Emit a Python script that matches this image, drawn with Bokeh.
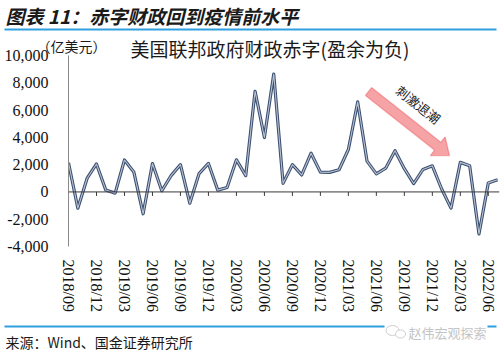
import math
import pandas as pd
from bokeh.plotting import figure
from bokeh.models import (FixedTicker, NumeralTickFormatter, Span, Label,
                          PolyAnnotation, BoxAnnotation, Range1d)
from bokeh.embed import file_html
from bokeh.resources import INLINE

# ---------------- data ----------------
months = [p.strftime("%Y/%m") for p in pd.period_range("2018-09", "2022-07", freq="M")]
deficit = [2141, -1191, 1005, 2049, 135, -87, 2340, 1469, -1603, 2078, 85, 1197,
           2003, -828, 1345, 2088, 133, 326, 2353, 1191, 7379, 3988, 8641, 630,
           2000, 1246, 2841, 1453, 1436, 1628, 3109, 6596, 2256, 1320, 1742, 3021,
           1706, 615, 1650, 1913, 213, -1187, 2166, 1927, -3082, 662, 888]
tick_labels = ["2018/09", "2018/12", "2019/03", "2019/06", "2019/09", "2019/12",
               "2020/03", "2020/06", "2020/09", "2020/12", "2021/03", "2021/06",
               "2021/09", "2021/12", "2022/03", "2022/06"]
y_ticks = [-4000, -2000, 0, 2000, 4000, 6000, 8000, 10000]

title_text = "图表 11：赤字财政回到疫情前水平"
unit_text = "（亿美元）"
series_name = "美国联邦政府财政赤字(盈余为负)"
arrow_text = "刺激退潮"
source_text = "来源：Wind、国金证券研究所"
watermark = "赵伟宏观探索"

serif = "Liberation Serif"
cjk = "Noto Sans CJK SC"
BLUE = "#2f9fe0"
W, H = 500, 354

# ---------------- background page (title, rules, notes) ----------------
bg = figure(width=W, height=H, output_backend="svg", toolbar_location=None,
            x_range=Range1d(0, W), y_range=Range1d(0, H),
            x_axis_type=None, y_axis_type=None, min_border=0, margin=0)
bg.outline_line_color = None
bg.grid.visible = False
bg.background_fill_alpha = 0
bg.border_fill_alpha = 0


def py(y):
    """page y (from top) -> background figure data y"""
    return H - y


# blue rules under the title and above the source line (the lower one is
# interrupted by the watermark)
for l, r, yy in ((4, 496, 29), (4, 384, 326), (487, 496, 326)):
    bg.add_layout(BoxAnnotation(left=l, right=r, bottom=py(yy + 1), top=py(yy - 1),
                                fill_color=BLUE, fill_alpha=1.0, line_color=None,
                                level="overlay"))

bg.add_layout(Label(x=5, y=py(14.5), text=title_text, text_font=cjk,
                    text_font_size="19px", text_font_style="bold italic",
                    text_baseline="middle", text_color="#1a1a1a"))
bg.ellipse(x=[392, 400], y=[py(330), py(333.5)], width=[13, 10], height=[10, 8],
           fill_color="white", line_color="#cfcfcf", line_width=1)
bg.add_layout(Label(x=36, y=py(45.5), text=unit_text, text_font=cjk,
                    text_font_size="14px", text_baseline="middle",
                    text_color="#1a1a1a"))
bg.add_layout(Label(x=130, y=py(48), text=series_name, text_font=cjk,
                    text_font_size="19px", text_baseline="middle",
                    text_color="#1a1a1a"))
bg.add_layout(Label(x=408, y=py(332), text=watermark, text_font=cjk,
                    text_font_size="13px", text_baseline="middle",
                    text_color="#c4c4c4"))
bg.add_layout(Label(x=5, y=py(341.5), text=source_text, text_font=cjk,
                    text_font_size="14px", text_baseline="middle",
                    text_color="#1a1a1a"))

# ---------------- main chart, overlaid on the page ----------------
TOP = 46          # page y where the chart canvas starts
MH = 272
BL, BR, BT, BB = 68, 1, 9, 72
FW, FH = W - BL - BR, MH - BT - BB
x_idx = list(range(len(months)))
X_END = 46.2
Y0, Y1 = y_ticks[0], y_ticks[-1]

p = figure(width=W, height=MH, output_backend="svg", toolbar_location=None,
           x_range=Range1d(0, X_END), y_range=Range1d(Y0, Y1),
           min_border_left=BL, min_border_right=BR, min_border_top=BT,
           min_border_bottom=BB, margin=(TOP - H, 0, 0, 0))
p.background_fill_alpha = 0
p.border_fill_alpha = 0
p.outline_line_color = None
p.grid.visible = False

tick_idx = [months.index(t) for t in tick_labels]
p.xaxis.ticker = FixedTicker(ticks=tick_idx)
p.xaxis.major_label_overrides = {i: t for i, t in zip(tick_idx, tick_labels)}
p.xaxis.axis_line_color = None
p.xaxis.major_tick_line_color = None
p.xaxis.minor_tick_line_color = None
p.xaxis.major_label_orientation = "vertical"
p.xaxis.major_label_standoff = 7
p.xaxis.major_label_text_font = serif
p.xaxis.major_label_text_font_size = "16px"
p.xaxis.major_label_text_color = "#111111"

p.yaxis.ticker = FixedTicker(ticks=y_ticks)
p.yaxis.formatter = NumeralTickFormatter(format="0,0")
p.yaxis.axis_line_color = "#8a8a8a"
p.yaxis.major_tick_line_color = None
p.yaxis.minor_tick_line_color = None
p.yaxis.major_label_standoff = 14
p.yaxis.major_label_text_font = serif
p.yaxis.major_label_text_font_size = "16px"
p.yaxis.major_label_text_color = "#111111"

# zero line with downward tick marks
p.add_layout(Span(location=0, dimension="width", line_color="#3a3a3a", line_width=1))
ky = FH / (Y1 - Y0)
kx = FW / X_END
tick_len = 4 / ky
p.segment(x0=tick_idx[1:], y0=[0] * (len(tick_idx) - 1), x1=tick_idx[1:],
          y1=[-tick_len] * (len(tick_idx) - 1), line_color="#3a3a3a", line_width=1)

# series
p.line(x=x_idx, y=deficit, line_color="#3d4f6f", line_width=3.2, line_join="round")
p.line(x=x_idx, y=deficit, line_color="#b7c2d4", line_width=1.1, line_join="round")

FRAME_BOTTOM = TOP + BT + FH   # page y of the frame bottom


def to_data(cx, cy):
    return (cx - BL) / kx, Y0 + (FRAME_BOTTOM - cy) / ky


# block arrow "刺激退潮"
tail = (368.0, 91.0)
tip = (449.0, 155.0)
dx, dy = tip[0] - tail[0], tip[1] - tail[1]
ln = math.hypot(dx, dy)
ux, uy = dx / ln, dy / ln
nx, ny = -uy, ux
sw, hw, hl = 5.0, 12.0, 15.0
base = (tip[0] - ux * hl, tip[1] - uy * hl)
pts = [
    (tail[0] + nx * sw, tail[1] + ny * sw),
    (base[0] + nx * sw, base[1] + ny * sw),
    (base[0] + nx * hw, base[1] + ny * hw),
    tip,
    (base[0] - nx * hw, base[1] - ny * hw),
    (base[0] - nx * sw, base[1] - ny * sw),
    (tail[0] - nx * sw, tail[1] - ny * sw),
]
dpts = [to_data(a, b) for a, b in pts]
p.add_layout(PolyAnnotation(xs=[q[0] for q in dpts], ys=[q[1] for q in dpts],
                            fill_color="#f6a3a5", fill_alpha=1.0,
                            line_color="#e5262c", line_width=1.3))
ax, ay = to_data(418, 104)
p.add_layout(Label(x=ax, y=ay, text=arrow_text, angle=-math.atan2(dy, dx),
                   text_align="center", text_baseline="middle", text_font=cjk,
                   text_font_size="13px", text_color="#222222"))

open("out.html", "w").write(file_html([bg, p], INLINE))
